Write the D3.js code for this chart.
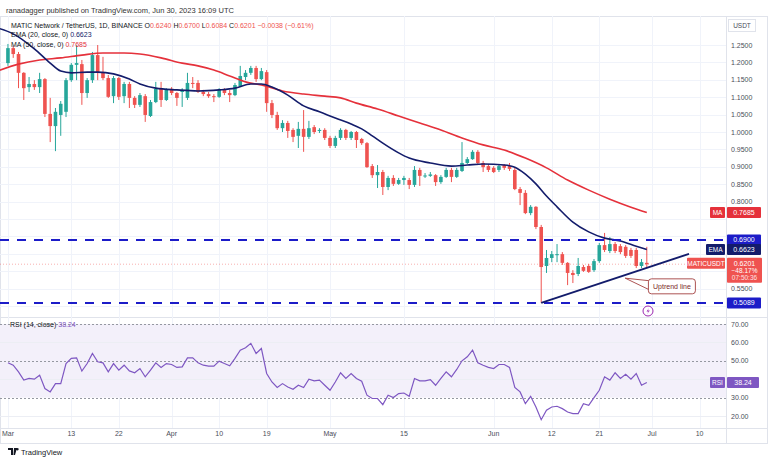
<!DOCTYPE html>
<html><head><meta charset="utf-8">
<script src="https://cdn.jsdelivr.net/npm/d3@7"></script>
<style>
html,body{margin:0;padding:0;background:#fff;}
svg{display:block;font-family:"Liberation Sans",Arial,sans-serif;}
</style></head><body>
<svg id="c" width="768" height="463"></svg>
<script>
// ---------- DATA ----------
const startDate = new Date(Date.UTC(2023, 2, 1)); // first candle: Mar 1 2023, daily candles
const opens = [1.198,1.241,1.224,1.170,1.129,1.138,1.129,1.152,1.052,1.017,
1.049,1.058,1.149,1.193,1.195,1.112,1.149,1.221,1.170,1.155,
1.103,1.155,1.103,1.138,1.098,1.078,1.103,1.046,1.086,1.124,
1.092,1.124,1.112,1.115,1.098,1.141,1.141,1.115,1.109,1.103,
1.101,1.121,1.112,1.106,1.132,1.158,1.170,1.184,1.152,1.172,
1.083,1.049,1.011,1.026,1.006,0.989,1.009,0.986,1.014,1.003,
1.006,0.983,0.960,0.983,1.006,0.983,1.000,0.980,0.968,0.902,
0.876,0.885,0.842,0.868,0.851,0.862,0.862,0.848,0.891,0.874,
0.874,0.876,0.856,0.871,0.891,0.871,0.888,0.911,0.922,0.943,
0.911,0.902,0.897,0.891,0.905,0.902,0.891,0.836,0.825,0.767,
0.785,0.727,0.615,0.638,0.646,0.649,0.624,0.595,0.592,0.612,
0.615,0.603,0.629,0.675,0.658,0.678,0.672,0.670,0.661,0.661,
0.615,0.624];
const highs = [1.253,1.247,1.230,1.172,1.158,1.149,1.170,1.155,1.098,1.069,
1.089,1.155,1.198,1.250,1.207,1.155,1.230,1.250,1.216,1.164,
1.161,1.158,1.144,1.144,1.103,1.112,1.109,1.092,1.144,1.144,
1.126,1.129,1.115,1.126,1.170,1.158,1.149,1.121,1.115,1.109,
1.126,1.126,1.121,1.141,1.190,1.178,1.190,1.190,1.184,1.178,
1.092,1.058,1.034,1.032,1.011,1.029,1.063,1.032,1.020,1.011,
1.011,0.989,0.989,1.011,1.009,1.003,1.003,0.983,0.971,0.908,
0.905,0.891,0.874,0.876,0.868,0.874,0.868,0.902,0.897,0.882,
0.885,0.879,0.876,0.897,0.897,0.897,0.971,0.928,0.948,0.948,
0.917,0.908,0.902,0.908,0.908,0.911,0.897,0.842,0.833,0.790,
0.787,0.733,0.661,0.658,0.678,0.655,0.626,0.603,0.638,0.618,
0.621,0.635,0.681,0.710,0.698,0.684,0.678,0.675,0.667,0.667,
0.635,0.670];
const lows = [1.190,1.213,1.126,1.092,1.115,1.121,1.112,1.043,0.971,0.945,
0.989,1.043,1.144,1.149,1.078,1.098,1.141,1.149,1.149,1.098,
1.083,1.092,1.083,1.069,1.069,1.072,1.029,1.043,1.083,1.072,
1.089,1.106,1.075,1.072,1.092,1.126,1.112,1.103,1.098,1.086,
1.098,1.106,1.086,1.103,1.129,1.149,1.164,1.144,1.149,1.058,
1.040,1.006,1.000,0.983,0.971,0.954,0.943,0.980,0.994,0.997,
0.977,0.954,0.954,0.977,0.977,0.977,0.954,0.963,0.897,0.868,
0.839,0.819,0.833,0.845,0.848,0.848,0.836,0.842,0.845,0.868,
0.871,0.845,0.851,0.868,0.856,0.868,0.885,0.908,0.920,0.905,
0.885,0.885,0.882,0.885,0.891,0.888,0.833,0.790,0.764,0.761,
0.721,0.5089,0.595,0.626,0.626,0.618,0.560,0.566,0.586,0.598,
0.595,0.598,0.624,0.655,0.652,0.652,0.649,0.638,0.638,0.609,
0.609,0.6084];
const closes = [1.241,1.224,1.170,1.126,1.138,1.129,1.152,1.052,1.017,1.058,
1.081,1.149,1.193,1.198,1.112,1.149,1.221,1.170,1.155,1.101,
1.155,1.101,1.138,1.098,1.078,1.106,1.049,1.086,1.124,1.092,
1.121,1.112,1.098,1.118,1.141,1.140,1.115,1.109,1.103,1.101,
1.121,1.112,1.106,1.135,1.161,1.170,1.184,1.152,1.175,1.083,
1.049,1.011,1.026,1.003,0.986,1.009,0.986,1.011,1.000,1.006,
0.983,0.960,0.983,1.006,0.983,1.000,0.977,0.968,0.899,0.876,
0.885,0.842,0.868,0.851,0.862,0.868,0.848,0.891,0.874,0.875,
0.878,0.856,0.871,0.891,0.871,0.891,0.911,0.922,0.943,0.911,
0.899,0.891,0.885,0.902,0.897,0.894,0.836,0.825,0.767,0.785,
0.727,0.612,0.638,0.649,0.649,0.624,0.595,0.589,0.615,0.601,
0.598,0.629,0.675,0.661,0.678,0.658,0.655,0.644,0.644,0.615,
0.626,0.6201];
const rsiValues = [48.9,47.6,44,39.5,40.4,40,42.2,34.9,33.1,37.6,
37.6,48.5,51.3,51.6,44.4,48.5,54,49.5,48.9,44,
48.5,44.9,47.6,44.5,43.5,45.8,41.3,44.9,48.9,46.4,
48.5,48,46.4,46.7,51.6,51.6,48.9,47.6,47.1,47.1,
49.8,48.5,47.3,51.3,55.8,57.1,59.5,54,56.7,43.1,
38.5,35.5,37.6,35.8,34.5,36.7,35.5,40,39.1,39.5,
36.7,34,38.5,43.5,40.4,43.1,40.4,38.9,31.3,29.5,
29.5,26.2,31.3,30,32.2,32.5,30.7,40.4,39.1,39.1,
39.8,36.7,40.4,44,41.3,45.3,50,52.2,55.8,48.9,
47.6,46.4,45.8,48,48,46.4,35.5,33.1,26.7,30.7,
24.9,18,23.1,24.9,25.3,24,22.2,21.3,21.3,26.7,
25.8,30,34,41.3,39.5,43.5,40.4,42.7,40,43.1,
36.7,38.24];
// EMA(20) and MA(50) read at selected candle indexes (days after Mar 1)
const emaDays = [-2,1,5,8,10,12,15,17,20,23,25,28,32,36,40,43,46,48,50,53,56,59,62,65,67,69,71,74,76,80,84,87,90,94,96,98,100,102,104,107,110,113,116,119,121];
const emaValues = [1.299,1.282,1.239,1.198,1.175,1.170,1.172,1.172,1.167,1.152,1.138,1.126,1.121,1.118,1.121,1.126,1.138,1.138,1.129,1.106,1.075,1.058,1.040,1.023,1.009,0.989,0.968,0.940,0.925,0.911,0.902,0.905,0.908,0.905,0.899,0.879,0.851,0.816,0.785,0.741,0.713,0.695,0.687,0.672,0.6623];
const maDays = [-2,2,6,10,14,18,22,25,29,33,36,39,42,45,48,52,56,60,63,66,70,74,78,82,86,90,94,98,102,106,110,114,118,121];
const maValues = [1.175,1.195,1.207,1.213,1.221,1.227,1.227,1.224,1.213,1.198,1.190,1.178,1.161,1.144,1.135,1.118,1.109,1.103,1.098,1.083,1.066,1.046,1.026,1.006,0.983,0.963,0.948,0.925,0.897,0.862,0.833,0.807,0.784,0.7685];
const priceTicks = [1.25,1.20,1.15,1.10,1.05,1.00,0.95,0.90,0.85,0.80,0.75,0.70,0.65,0.60,0.55,0.50];
const rsiTicks = [70,60,50,40,30,20];
const timeTickDays = [0,12,21,31,40,49,61,75,92,103,112,122,131];
const timeTickLabels = ["Mar","13","22","Apr","10","19","May","15","Jun","12","21","Jul","10"];
const levelPrices = [0.69, 0.5089];
const trendDays = [101, 129];
const trendPrices = [0.5089, 0.650];

// ---------- LAYOUT ----------
const W = 768, H = 463;
const plotRight = 726;
const mainTop = 16, mainBottom = 317, rsiTop = 318, rsiBottom = 428, frameBottom = 443;
const dayDate = i => d3.utcDay.offset(startDate, i);

const x = d3.scaleUtc().domain([dayDate(0), dayDate(131)]).range([7.95, 699.6]);
const y = d3.scaleLinear().domain([0.5, 1.25]).range([306, 45]);
const yr = d3.scaleLinear().domain([20, 70]).range([416, 324]);

const GREEN = "#26a69a", RED = "#ef5350", NAVY = "#131c6b", MARED = "#e5313b", LVL = "#1c1cc8", PURPLE = "#7e57c2";
const svg = d3.select("#c");

// frame
svg.append("rect").attr("x",0.5).attr("y",mainTop+0.5).attr("width",W-1).attr("height",frameBottom-mainTop).attr("fill","none").attr("stroke","#e0e3eb");
svg.append("line").attr("x1",plotRight+0.5).attr("x2",plotRight+0.5).attr("y1",mainTop).attr("y2",frameBottom).attr("stroke","#e0e3eb");
svg.append("line").attr("x1",0).attr("x2",W).attr("y1",mainBottom+0.5).attr("y2",mainBottom+0.5).attr("stroke","#e0e3eb");
svg.append("line").attr("x1",0).attr("x2",W).attr("y1",rsiBottom+0.5).attr("y2",rsiBottom+0.5).attr("stroke","#e0e3eb");

// clips
const defs = svg.append("defs");
defs.append("clipPath").attr("id","mainclip").append("rect").attr("x",0).attr("y",mainTop+1).attr("width",plotRight).attr("height",mainBottom-mainTop-1);
defs.append("clipPath").attr("id","rsiclip").append("rect").attr("x",0).attr("y",rsiTop).attr("width",plotRight).attr("height",rsiBottom-rsiTop);

// grid
const grid = svg.append("g");
grid.selectAll(".vg").data(timeTickDays).join("line")
  .attr("x1",d=>Math.round(x(dayDate(d)))+0.5).attr("x2",d=>Math.round(x(dayDate(d)))+0.5)
  .attr("y1",mainTop).attr("y2",rsiBottom).attr("stroke","#f0f3fa");
grid.selectAll(".hg").data(priceTicks).join("line")
  .attr("x1",0).attr("x2",plotRight).attr("y1",d=>Math.round(y(d))+0.5).attr("y2",d=>Math.round(y(d))+0.5).attr("stroke","#f0f3fa");

// RSI pane background band
const rsiG = svg.append("g").attr("clip-path","url(#rsiclip)");
rsiG.append("rect").attr("x",0).attr("width",plotRight).attr("y",yr(70)).attr("height",yr(30)-yr(70)).attr("fill","#f3f0fa");
rsiG.selectAll(".rg").data([60,40,20]).join("line").attr("x1",0).attr("x2",plotRight)
  .attr("y1",d=>Math.round(yr(d))+0.5).attr("y2",d=>Math.round(yr(d))+0.5).attr("stroke","#eceef4");
rsiG.selectAll(".rd").data([70,50,30]).join("line").attr("x1",0).attr("x2",plotRight)
  .attr("y1",d=>Math.round(yr(d))+0.5).attr("y2",d=>Math.round(yr(d))+0.5)
  .attr("stroke","#9598a1").attr("stroke-dasharray","2,2");
rsiG.append("path").datum(rsiValues).attr("fill","none").attr("stroke",PURPLE).attr("stroke-width",1.2)
  .attr("d", d3.line().x((d,i)=>x(dayDate(i))).y(d=>yr(d)));

// main pane
const mainG = svg.append("g").attr("clip-path","url(#mainclip)");
// last price line
mainG.append("line").attr("x1",0).attr("x2",plotRight).attr("y1",y(closes[closes.length-1])).attr("y2",y(closes[closes.length-1]))
  .attr("stroke",RED).attr("stroke-opacity",0.45).attr("stroke-dasharray","1,2");

// candles
const candles = d3.range(opens.length).map(i=>({i,o:opens[i],h:highs[i],l:lows[i],c:closes[i]}));
const cg = mainG.append("g");
cg.selectAll(".wick").data(candles).join("line")
  .attr("x1",d=>x(dayDate(d.i))).attr("x2",d=>x(dayDate(d.i)))
  .attr("y1",d=>y(d.h)).attr("y2",d=>y(d.l))
  .attr("stroke",d=>d.c>=d.o?GREEN:RED).attr("stroke-width",1);
const bw = 3.6;
cg.selectAll(".body").data(candles).join("rect")
  .attr("x",d=>x(dayDate(d.i))-bw/2).attr("width",bw)
  .attr("y",d=>y(Math.max(d.o,d.c)))
  .attr("height",d=>Math.max(1,Math.abs(y(d.o)-y(d.c))))
  .attr("fill",d=>d.c>=d.o?GREEN:RED);

// MA & EMA
mainG.append("path").datum(maDays.map((d,k)=>[d,maValues[k]])).attr("fill","none").attr("stroke",MARED).attr("stroke-width",1.6)
  .attr("d", d3.line().x(d=>x(dayDate(d[0]))).y(d=>y(d[1])).curve(d3.curveMonotoneX));
mainG.append("path").datum(emaDays.map((d,k)=>[d,emaValues[k]])).attr("fill","none").attr("stroke",NAVY).attr("stroke-width",1.6)
  .attr("d", d3.line().x(d=>x(dayDate(d[0]))).y(d=>y(d[1])).curve(d3.curveMonotoneX));

// horizontal levels
mainG.selectAll(".lvl").data(levelPrices).join("line")
  .attr("x1",0).attr("x2",plotRight).attr("y1",d=>y(d)).attr("y2",d=>y(d))
  .attr("stroke",LVL).attr("stroke-width",2).attr("stroke-dasharray","9,8");
// uptrend line
mainG.append("line")
  .attr("x1",x(dayDate(trendDays[0]))).attr("y1",y(trendPrices[0]))
  .attr("x2",x(dayDate(trendDays[1]))).attr("y2",y(trendPrices[1]))
  .attr("stroke",NAVY).attr("stroke-width",1.8);

// callout "Uptrend line"
const calloutBox = {day0:121.3, day1:130.2, p0:0.578, p1:0.535};
const tipDay = 116.9, tipPrice = 0.580;
const bx0 = x(dayDate(0)) + calloutBox.day0*5.28, bx1 = x(dayDate(0)) + calloutBox.day1*5.28;
const by0 = y(calloutBox.p0), by1 = y(calloutBox.p1);
const tipX = x(dayDate(0)) + tipDay*5.28, tipY = y(tipPrice);
const cgp = svg.append("g");
cgp.append("path").attr("d",`M${bx0+2},${by0+2} L${tipX},${tipY} L${bx0+1},${by1-4}`)
  .attr("fill","#fff").attr("stroke","#a34040").attr("stroke-width",0.9);
cgp.append("rect").attr("x",bx0).attr("y",by0).attr("width",bx1-bx0).attr("height",by1-by0).attr("rx",3)
  .attr("fill","#fff").attr("stroke","#a34040").attr("stroke-width",0.9);
cgp.append("text").attr("x",(bx0+bx1)/2).attr("y",(by0+by1)/2+2.5).attr("text-anchor","middle")
  .attr("font-size",7).attr("fill","#7a2a2a").text("Uptrend line");

// small event icon
const ic = svg.append("g").attr("transform",`translate(648,311)`);
ic.append("circle").attr("r",5).attr("fill","#fff").attr("stroke","#9c27b0").attr("stroke-width",1);
ic.append("path").attr("d","M1,-3 L-1.5,0.5 L0.5,0.5 L-1,3.2 L1.8,-0.6 L-0.2,-0.6 Z").attr("fill","#9c27b0");

// ---------- AXES / LABELS ----------
const fmt4 = d3.format(".4f");
// axis boxes (price centres) used to hide covered tick labels, as the reference does
const lastClose = closes[closes.length-1];
const boxSpans = [
  [y(maValues[maValues.length-1])-5.5, y(maValues[maValues.length-1])+5.5],
  [y(levelPrices[0])-5.5, y(levelPrices[0])+5.5],
  [y(emaValues[emaValues.length-1])-5.5, y(emaValues[emaValues.length-1])+5.5],
  [y(lastClose)-6.5, y(lastClose)+18.5],
  [y(levelPrices[1])-5.5, y(levelPrices[1])+5.5]
];
const covered = yy => boxSpans.some(([a,b]) => yy+2 > a && yy-2 < b);
const rsiBoxY = yr(rsiValues[rsiValues.length-1]);

const axG = svg.append("g").attr("font-size",7).attr("fill","#4a4e59");
axG.selectAll(".pt").data(priceTicks.filter(d=>!covered(y(d)))).join("text").attr("x",731).attr("y",d=>y(d)+2.5).text(d=>fmt4(d));
axG.selectAll(".rt").data(rsiTicks.filter(d=>Math.abs(yr(d)-rsiBoxY)>8)).join("text").attr("x",731).attr("y",d=>yr(d)+2.5).text(d=>d3.format(".2f")(d));
axG.selectAll(".tt").data(timeTickDays).join("text").attr("x",d=>x(dayDate(d))).attr("y",436).attr("text-anchor","middle")
  .text((d,k)=>timeTickLabels[k]);

// USDT
svg.append("rect").attr("x",728.5).attr("y",19.5).attr("width",27).attr("height",12).attr("fill","#fff").attr("stroke","#e0e3eb");
svg.append("text").attr("x",742).attr("y",28).attr("text-anchor","middle").attr("font-size",6.5).attr("fill","#4a4e59").text("USDT");

function priceBox(yc, txt, fill, tag, tagW){
  const g = svg.append("g");
  g.append("rect").attr("x",727).attr("y",yc-5.5).attr("width",34).attr("height",11).attr("fill",fill).attr("rx",1);
  g.append("text").attr("x",744).attr("y",yc+2.5).attr("text-anchor","middle").attr("font-size",7).attr("fill","#fff").text(txt);
  if(tag){
    g.append("rect").attr("x",726-tagW).attr("y",yc-5.5).attr("width",tagW-1).attr("height",11).attr("fill",fill).attr("rx",1);
    g.append("text").attr("x",726-tagW/2-0.5).attr("y",yc+2.5).attr("text-anchor","middle").attr("font-size",6.5).attr("fill","#fff").text(tag);
  }
}
priceBox(y(maValues[maValues.length-1]), fmt4(maValues[maValues.length-1]), MARED, "MA", 16);
priceBox(y(levelPrices[0]), fmt4(levelPrices[0]), LVL);
priceBox(y(emaValues[emaValues.length-1]), fmt4(emaValues[emaValues.length-1]), NAVY, "EMA", 20);
priceBox(y(levelPrices[1]), fmt4(levelPrices[1]), LVL);
// last price box
{
  const yc = y(lastClose);
  const g = svg.append("g");
  g.append("rect").attr("x",727).attr("y",yc-6.5).attr("width",35).attr("height",25).attr("fill",RED).attr("rx",1);
  g.append("text").attr("x",744.5).attr("y",yc+1.5).attr("text-anchor","middle").attr("font-size",7).attr("fill","#fff").text(fmt4(lastClose));
  g.append("text").attr("x",744.5).attr("y",yc+9).attr("text-anchor","middle").attr("font-size",6.5).attr("fill","#fff").text("−48.17%");
  g.append("text").attr("x",744.5).attr("y",yc+16).attr("text-anchor","middle").attr("font-size",6.5).attr("fill","#fde2e2").text("07:50:36");
  g.append("rect").attr("x",687).attr("y",yc-6.5).attr("width",38).attr("height",11).attr("fill",RED).attr("rx",1);
  g.append("text").attr("x",706).attr("y",yc+1.5).attr("text-anchor","middle").attr("font-size",6.5).attr("fill","#fff").text("MATICUSDT");
}
// RSI box
{
  const yc = rsiBoxY;
  svg.append("rect").attr("x",727).attr("y",yc-5.5).attr("width",32).attr("height",11).attr("fill",PURPLE).attr("rx",1);
  svg.append("text").attr("x",743).attr("y",yc+2.5).attr("text-anchor","middle").attr("font-size",7).attr("fill","#fff").text(d3.format(".2f")(rsiValues[rsiValues.length-1]));
  svg.append("rect").attr("x",710).attr("y",yc-5.5).attr("width",15).attr("height",11).attr("fill",PURPLE).attr("rx",1);
  svg.append("text").attr("x",717.5).attr("y",yc+2.5).attr("text-anchor","middle").attr("font-size",6.5).attr("fill","#fff").text("RSI");
}

// header & legends
svg.append("text").attr("x",6).attr("y",12.5).attr("font-size",7.5).attr("fill","#333").text("ranadagger published on TradingView.com, Jun 30, 2023 16:09 UTC");
const lg = svg.append("text").attr("x",11).attr("y",27.5).attr("font-size",7).attr("fill","#131722");
lg.append("tspan").text("MATIC Network / TetherUS, 1D, BINANCE  ");
[["O","0.6240"],["H","0.6700"],["L","0.6084"],["C","0.6201"]].forEach(([a,b])=>{
  lg.append("tspan").attr("fill","#131722").text(" "+a);
  lg.append("tspan").attr("fill",RED).text(b);
});
lg.append("tspan").attr("fill",RED).text(" −0.0038 (−0.61%)");
const e1 = svg.append("text").attr("x",11).attr("y",37).attr("font-size",7).attr("fill","#131722");
e1.append("tspan").text("EMA (20, close, 0)  ");
e1.append("tspan").attr("fill",NAVY).text("0.6623");
const e2 = svg.append("text").attr("x",11).attr("y",46.5).attr("font-size",7).attr("fill","#131722");
e2.append("tspan").text("MA (50, close, 0)  ");
e2.append("tspan").attr("fill",MARED).text("0.7685");
const r1 = svg.append("text").attr("x",10).attr("y",327).attr("font-size",7).attr("fill","#131722");
r1.append("tspan").text("RSI (14, close)  ");
r1.append("tspan").attr("fill",PURPLE).text("38.24");

// TradingView logo
const tv = svg.append("g").attr("transform","translate(8,448)");
tv.append("path").attr("d","M0,0 H5 V7 H3 V2 H0 Z M6,0 H9 L7,7 H5.5 Z M9.5,0 A1.2,1.2 0 1 1 9.49,0").attr("fill","#131722");
tv.append("text").attr("x",13).attr("y",7).attr("font-size",7.5).attr("fill","#131722").text("TradingView");
</script>
</body></html>
